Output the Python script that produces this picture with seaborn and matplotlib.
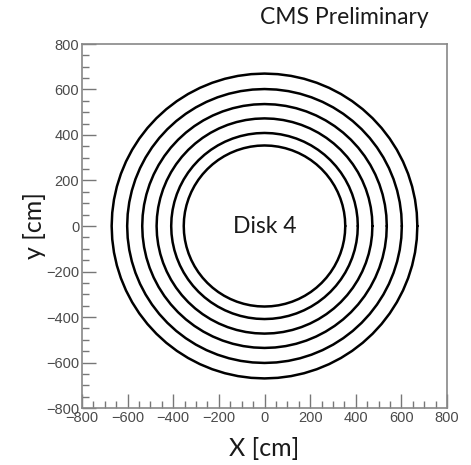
import numpy as np
import pandas as pd
import matplotlib
matplotlib.use("Agg")
import matplotlib.pyplot as plt
import seaborn as sns
from matplotlib.ticker import MultipleLocator

# Data: ring radii [cm] for Disk 4
ring_names = ["ring1", "ring2", "ring3", "ring4", "ring5", "ring6"]
ring_radii = [354, 409, 473, 536, 602, 670]
x_ticks = [-800, -600, -400, -200, 0, 200, 400, 600, 800]
y_ticks = [-800, -600, -400, -200, 0, 200, 400, 600, 800]

sns.set_theme(style="white")
plt.rcParams["font.family"] = ["Liberation Sans", "DejaVu Sans"]

theta = np.linspace(0, 2 * np.pi, 73)
rows = []
for name, r in zip(ring_names, ring_radii):
    for i, t in enumerate(theta):
        rows.append({"ring": name, "order": i, "x": r * np.cos(t), "y": r * np.sin(t)})
df = pd.DataFrame(rows)

fig = plt.figure(figsize=(4.71, 4.65), dpi=100)
ax = fig.add_axes([82 / 471, 1 - 408 / 465, 365 / 471, 364 / 465])

sns.lineplot(data=df, x="x", y="y", units="ring", estimator=None, sort=False,
             color="black", linewidth=1.8, ax=ax, legend=False)

ax.set_xlim(-800, 800)
ax.set_ylim(-800, 800)
ax.set_xticks(x_ticks)
ax.set_yticks(y_ticks)
ax.set_xticklabels([f"\u2212{abs(v)}" if v < 0 else str(v) for v in x_ticks])
ax.set_yticklabels([f"\u2212{abs(v)}" if v < 0 else str(v) for v in y_ticks])
ax.xaxis.set_minor_locator(MultipleLocator(50))
ax.yaxis.set_minor_locator(MultipleLocator(50))
ax.tick_params(which="both", bottom=True, left=True, top=False, right=False)
ax.tick_params(which="major", direction="in", length=10, width=1, color="#777777",
               labelsize=10.5, labelcolor="#4a4a4a", pad=2)
ax.tick_params(which="minor", direction="in", length=5, width=1, color="#777777")
for s in ax.spines.values():
    s.set_color("#888888")
    s.set_linewidth(1.2)

lab_font = ["Lato", "DejaVu Sans"]
ax.set_xlabel("X [cm]", fontsize=18, color="#1a1a1a", family=lab_font, labelpad=9)
ax.set_ylabel("y [cm]", fontsize=18, color="#1a1a1a", family=lab_font, labelpad=0)

ax.text(0, 0, "Disk 4", ha="center", va="center", fontsize=16.5, color="#1a1a1a",
        family=lab_font)
fig.text(344 / 471, 1 - 18 / 465, "CMS Preliminary", ha="center", va="center", fontsize=16.5,
         color="#1a1a1a", family=lab_font)

fig.savefig("out.png", dpi=100)
